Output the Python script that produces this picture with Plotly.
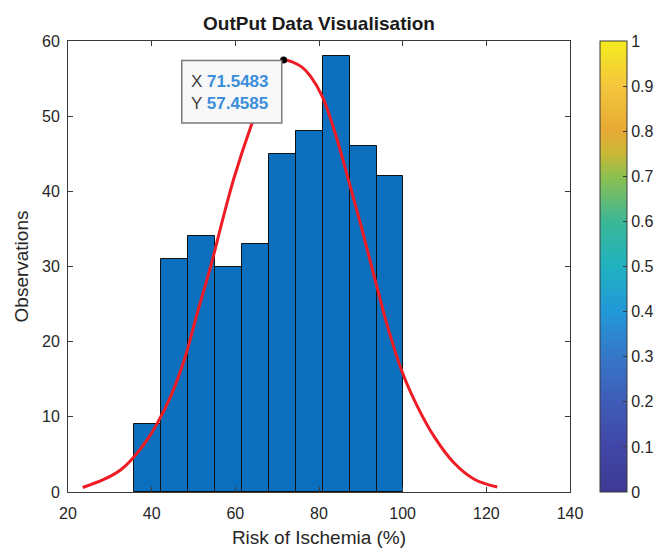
import plotly.graph_objects as go

# ---- data ----
bin_edges = [35.8, 42.25, 48.7, 55.15, 61.6, 68.0, 74.45, 80.9, 87.35, 93.75, 100.15]
counts = [9, 31, 34, 30, 33, 45, 48, 58, 46, 42]

fit_x = [23.5, 28.7, 32.7, 35.8, 39.0, 41.4, 44.6, 47.8, 51.0, 54.2, 57.0, 59.7,
         63.7, 67.7, 70.1, 71.55, 73.7, 76.0, 78.0, 80.8, 84.0, 86.8, 90.0, 93.0, 96.4,
         100.0, 103.6, 107.5, 112.3, 117.1, 122.6]
fit_y = [0.6, 1.7, 3.0, 4.7, 7.0, 9.2, 12.8, 17.6, 24.0, 30.2, 36.3, 41.8,
         48.6, 54.3, 56.9, 57.46, 57.2, 56.5, 55.3, 52.6, 47.5, 42.0, 35.5, 29.1, 22.0,
         15.8, 11.3, 7.4, 3.85, 1.7, 0.66]

tip_x = 71.5483
tip_y = 57.4585

x_ticks = [20, 40, 60, 80, 100, 120, 140]
y_ticks = [0, 10, 20, 30, 40, 50, 60]
cbar_ticks = [0, 0.1, 0.2, 0.3, 0.4, 0.5, 0.6, 0.7, 0.8, 0.9, 1]
cbar_labels = ["0", "0.1", "0.2", "0.3", "0.4", "0.5", "0.6", "0.7", "0.8", "0.9", "1"]

parula = [
    [0.0, "#3C3A93"], [0.1, "#4146A6"], [0.2, "#3F5CB7"], [0.3, "#3677C8"],
    [0.4, "#2298D8"], [0.5, "#20B2C0"], [0.6, "#3CB797"], [0.7, "#8EC04E"],
    [0.75, "#C8B836"], [0.8, "#E6A934"], [0.9, "#F4C63C"], [1.0, "#F4EB1E"],
]

FONT = "Liberation Sans, Arial, Helvetica, sans-serif"
AX = "#3a3a3a"

L, R, T, B = 68, 87, 41, 56
W, H = 657, 548
plot_w = W - L - R

centers = [(bin_edges[i] + bin_edges[i + 1]) / 2 for i in range(len(counts))]
widths = [bin_edges[i + 1] - bin_edges[i] for i in range(len(counts))]

fig = go.Figure()
fig.add_trace(go.Bar(
    x=centers, y=counts, width=widths,
    marker=dict(color="#0B6FBD", line=dict(color="#111111", width=1)),
    showlegend=False, hoverinfo="skip",
))
fig.add_trace(go.Scatter(
    x=fit_x, y=fit_y, mode="lines", line=dict(color="#EE1C24", width=3, shape="spline", smoothing=1.0),
    showlegend=False, hoverinfo="skip",
))
# colorbar holder
fig.add_trace(go.Scatter(
    x=[None], y=[None], mode="markers",
    marker=dict(color=[0], cmin=0, cmax=1, colorscale=parula, showscale=True,
                colorbar=dict(
                    x=(600 - L) / plot_w, xanchor="left", xpad=0, ypad=0, y=0.5, yanchor="middle",
                    len=1, lenmode="fraction", thickness=27, thicknessmode="pixels",
                    outlinecolor=AX, outlinewidth=1,
                    tickmode="array", tickvals=cbar_ticks, ticktext=cbar_labels,
                    ticks="inside", ticklen=4, tickcolor=AX,
                    tickfont=dict(family=FONT, size=16, color="#262626"),
                )),
    showlegend=False, hoverinfo="skip",
))
# datatip dot
fig.add_trace(go.Scatter(
    x=[tip_x], y=[tip_y], mode="markers",
    marker=dict(color="black", size=7),
    showlegend=False, hoverinfo="skip",
))

fig.add_shape(type="rect", xref="x", yref="y", x0=47.2, x1=71.1, y0=49.1, y1=57.4,
              fillcolor="#F8F8F8", line=dict(color="#7A7A7A", width=1.5), layer="above")

fig.add_annotation(x=49.0, y=54.55, xref="x", yref="y", xanchor="left", yanchor="middle",
                   showarrow=False,
                   text="X <b><span style='color:#3A8EDC'>%.4f</span></b>" % tip_x,
                   font=dict(family=FONT, size=17, color="#404040"))
fig.add_annotation(x=49.0, y=51.68, xref="x", yref="y", xanchor="left", yanchor="middle",
                   showarrow=False,
                   text="Y <b><span style='color:#3A8EDC'>%.4f</span></b>" % tip_y,
                   font=dict(family=FONT, size=17, color="#404040"))

fig.update_layout(
    width=W, height=H,
    margin=dict(l=L, r=R, t=T, b=B, autoexpand=False),
    paper_bgcolor="white", plot_bgcolor="white",
    bargap=0,
    title=dict(text="<b>OutPut Data Visualisation</b>", x=(L + plot_w / 2) / W, xanchor="center",
               y=1 - 23 / H, yanchor="middle",
               font=dict(family=FONT, size=19, color="#1a1a1a")),
    font=dict(family=FONT),
)
fig.update_xaxes(
    range=[20, 140], tickmode="array", tickvals=x_ticks, ticktext=[str(v) for v in x_ticks],
    showgrid=False, zeroline=False, showline=True, linecolor=AX, linewidth=1, mirror="allticks",
    ticks="inside", ticklen=5, tickcolor=AX, ticklabelstandoff=7,
    tickfont=dict(family=FONT, size=16, color="#262626"),
    title=dict(text="Risk of Ischemia (%)", font=dict(family=FONT, size=19, color="#262626"), standoff=14),
)
fig.update_yaxes(
    range=[0, 60], tickmode="array", tickvals=y_ticks, ticktext=[str(v) for v in y_ticks],
    showgrid=False, zeroline=False, showline=True, linecolor=AX, linewidth=1, mirror="allticks",
    ticks="inside", ticklen=5, tickcolor=AX, ticklabelstandoff=4,
    tickfont=dict(family=FONT, size=16, color="#262626"),
    title=dict(text="Observations", font=dict(family=FONT, size=19, color="#262626"), standoff=8),
)

fig.write_html("out.html")
